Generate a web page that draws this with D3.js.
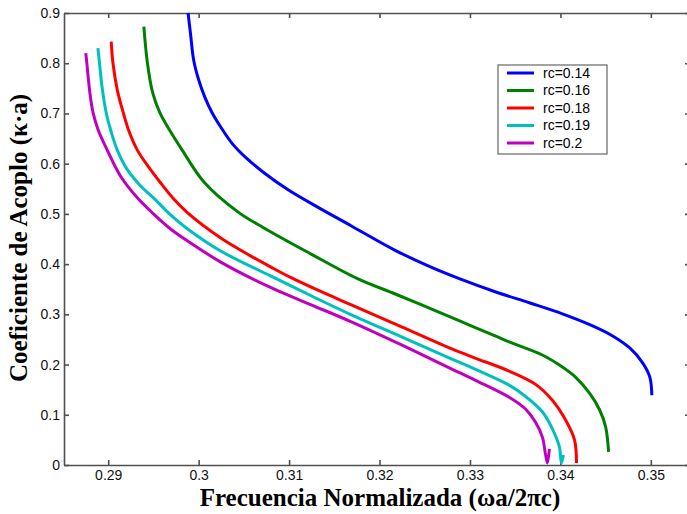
<!DOCTYPE html>
<html>
<head>
<meta charset="utf-8">
<script src="https://cdn.jsdelivr.net/npm/d3@7"></script>
<style>
  body { margin: 0; background: #fff; }
  .axis text { font-family: "Liberation Sans", Arial, sans-serif; font-size: 14px; fill: #111; }
  .axis path, .axis line { stroke: #505050; stroke-width: 1.6; }
  .title { font-family: "Liberation Serif", "Times New Roman", serif; font-weight: bold; font-size: 25px; fill: #000; }
  .legend text { font-family: "Liberation Sans", Arial, sans-serif; font-size: 14px; fill: #000; }
</style>
</head>
<body>
<div id="graph"></div>
<script>
var width = 687, height = 514;
var margin = { top: 13, left: 64, bottom: 49, right: -3 };

var xTicks = [0.29, 0.30, 0.31, 0.32, 0.33, 0.34, 0.35];
var xTickLabels = ["0.29", "0.3", "0.31", "0.32", "0.33", "0.34", "0.35"];
var yTicks = [0, 0.1, 0.2, 0.3, 0.4, 0.5, 0.6, 0.7, 0.8, 0.9];
var yTickLabels = ["0", "0.1", "0.2", "0.3", "0.4", "0.5", "0.6", "0.7", "0.8", "0.9"];

var seriesNames = ["rc=0.14", "rc=0.16", "rc=0.18", "rc=0.19", "rc=0.2"];
var seriesColors = ["#0000ff", "#008000", "#ff0000", "#00bfbf", "#bf00bf"];

// [frequency, coupling] pairs
var rc014 = [[0.29883, 0.900], [0.29911, 0.857], [0.29944, 0.807], [0.30000, 0.767], [0.30067, 0.733],
  [0.30144, 0.703], [0.30244, 0.673], [0.30367, 0.641], [0.30522, 0.612], [0.30722, 0.582],
  [0.30989, 0.548], [0.31311, 0.514], [0.31689, 0.476], [0.32167, 0.428], [0.32544, 0.396],
  [0.32911, 0.369], [0.33278, 0.345], [0.33656, 0.323], [0.34022, 0.301], [0.34356, 0.277],
  [0.34578, 0.257], [0.34767, 0.233], [0.34911, 0.203], [0.34989, 0.175], [0.35011, 0.139]];
var rc016 = [[0.29394, 0.873], [0.29433, 0.801], [0.29489, 0.743], [0.29567, 0.703], [0.29678, 0.667],
  [0.29811, 0.629], [0.30056, 0.564], [0.30433, 0.504], [0.30722, 0.472], [0.31244, 0.420],
  [0.31756, 0.371], [0.32167, 0.341], [0.32544, 0.313], [0.32911, 0.285], [0.33278, 0.257],
  [0.33433, 0.245], [0.33800, 0.219], [0.33989, 0.199], [0.34167, 0.175], [0.34322, 0.143],
  [0.34433, 0.110], [0.34500, 0.076], [0.34533, 0.026]];
var rc018 = [[0.29033, 0.843], [0.29052, 0.801], [0.29100, 0.747], [0.29167, 0.701], [0.29233, 0.663],
  [0.29322, 0.627], [0.29444, 0.594], [0.29578, 0.562], [0.29722, 0.530], [0.29878, 0.502],
  [0.30244, 0.452], [0.30578, 0.416], [0.30800, 0.394], [0.31022, 0.373], [0.31356, 0.345],
  [0.31689, 0.319], [0.32244, 0.275], [0.32800, 0.231], [0.33056, 0.213], [0.33433, 0.187],
  [0.33722, 0.161], [0.33911, 0.129], [0.34056, 0.090], [0.34156, 0.050], [0.34178, 0.004]];
var rc019 = [[0.28886, 0.830], [0.28903, 0.801], [0.28933, 0.751], [0.28978, 0.701], [0.29033, 0.663],
  [0.29100, 0.627], [0.29211, 0.588], [0.29356, 0.556], [0.29500, 0.532], [0.29689, 0.498],
  [0.29878, 0.470], [0.30244, 0.426], [0.30800, 0.376], [0.31244, 0.337], [0.31689, 0.299],
  [0.32244, 0.255], [0.32800, 0.211], [0.33056, 0.191], [0.33433, 0.159], [0.33611, 0.137],
  [0.33800, 0.106], [0.33911, 0.072], [0.33989, 0.036], [0.34011, 0.004], [0.34033, 0.020]];
var rc020 = [[0.28752, 0.820], [0.28763, 0.801], [0.28778, 0.773], [0.28800, 0.737], [0.28833, 0.701],
  [0.28889, 0.667], [0.28989, 0.627], [0.29133, 0.576], [0.29322, 0.532], [0.29500, 0.500],
  [0.29689, 0.470], [0.29878, 0.446], [0.30244, 0.404], [0.30800, 0.353], [0.31244, 0.319],
  [0.31689, 0.285], [0.32244, 0.239], [0.32800, 0.191], [0.33056, 0.169], [0.33433, 0.135],
  [0.33611, 0.112], [0.33722, 0.086], [0.33800, 0.056], [0.33833, 0.024], [0.33856, 0.004],
  [0.33878, 0.032]];
var seriesData = [rc014, rc016, rc018, rc019, rc020];

var chartWidth = width - margin.left - margin.right;
var chartHeight = height - margin.top - margin.bottom;

var xScale = d3.scaleLinear().domain([0.28511, 0.35433]).range([0, chartWidth]);
var yScale = d3.scaleLinear().domain([0, 0.9]).range([chartHeight, 0]);

var svg = d3.select("#graph").append("svg")
  .attr("width", width).attr("height", height);

var axisLayer = svg.append("g").attr("class", "axisLayer")
  .attr("transform", "translate(" + [margin.left, margin.top] + ")");
var chartLayer = svg.append("g").attr("class", "chartLayer")
  .attr("transform", "translate(" + [margin.left, margin.top] + ")");

// box with inward ticks
axisLayer.append("g").attr("class", "axis x")
  .attr("transform", "translate(0," + chartHeight + ")")
  .call(d3.axisBottom(xScale).tickValues(xTicks).tickSize(-5).tickSizeOuter(0).tickPadding(5)
    .tickFormat(function(d, i) { return xTickLabels[i]; }));
axisLayer.append("g").attr("class", "axis y")
  .call(d3.axisLeft(yScale).tickValues(yTicks).tickSize(-5).tickSizeOuter(0).tickPadding(4)
    .tickFormat(function(d, i) { return yTickLabels[i]; }));
axisLayer.append("g").attr("class", "axis top")
  .call(d3.axisTop(xScale).tickValues(xTicks).tickSize(-5).tickSizeOuter(0).tickFormat(""));
axisLayer.append("g").attr("class", "axis right")
  .attr("transform", "translate(" + chartWidth + ",0)")
  .call(d3.axisRight(yScale).tickValues(yTicks).tickSize(-5).tickSizeOuter(0).tickFormat(""));

var line = d3.line()
  .x(function(d) { return xScale(d[0]); })
  .y(function(d) { return yScale(d[1]); })
  .curve(d3.curveCatmullRom);

chartLayer.selectAll(".series")
  .data(seriesData)
  .enter().append("path")
  .attr("class", "series")
  .attr("fill", "none")
  .attr("stroke", function(d, i) { return seriesColors[i]; })
  .attr("stroke-width", 3)
  .attr("stroke-linejoin", "round")
  .attr("d", line);

// axis titles
svg.append("text")
  .attr("class", "title")
  .attr("x", 380)
  .attr("y", 506)
  .attr("text-anchor", "middle")
  .text("Frecuencia Normalizada (ωa/2πc)");

svg.append("text")
  .attr("class", "title")
  .attr("transform", "translate(" + [27, 238] + ")rotate(-90)")
  .attr("text-anchor", "middle")
  .text("Coeficiente de Acoplo (κ·a)");

// legend
var legend = svg.append("g").attr("class", "legend")
  .attr("transform", "translate(" + [498, 65] + ")");
legend.append("rect")
  .attr("width", 109).attr("height", 89)
  .attr("fill", "#fff").attr("stroke", "#666").attr("stroke-width", 1.2);

var entry = legend.selectAll(".entry")
  .data(seriesNames)
  .enter().append("g")
  .attr("class", "entry")
  .attr("transform", function(d, i) { return "translate(0," + (8 + i * 17.5) + ")"; });
entry.append("line")
  .attr("x1", 9).attr("x2", 36)
  .attr("stroke", function(d, i) { return seriesColors[i]; })
  .attr("stroke-width", 3);
entry.append("text")
  .attr("x", 45)
  .attr("dy", "0.35em")
  .text(function(d) { return d; });
</script>
</body>
</html>
